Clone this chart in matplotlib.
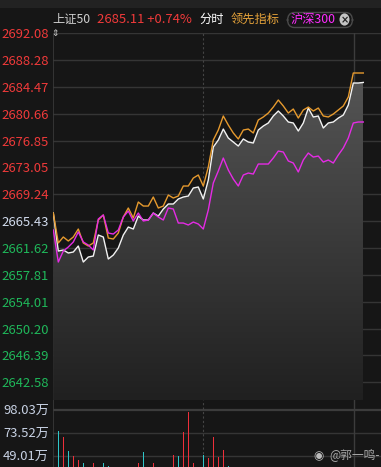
import numpy as np
import matplotlib
matplotlib.use('Agg')
import matplotlib.pyplot as plt
from matplotlib.patches import Polygon, FancyBboxPatch, Rectangle, Circle
from matplotlib.colors import LinearSegmentedColormap

plt.rcParams['font.family'] = ['Noto Sans CJK SC', 'DejaVu Sans']

# 上证50 分时
sz50 = [2666.59, 2661.20, 2661.34, 2660.92, 2661.06, 2661.91, 2659.64, 2660.35, 2660.49, 2663.47,
        2663.19, 2660.07, 2660.63, 2661.63, 2663.47, 2664.60, 2664.32, 2666.16, 2665.60, 2665.60,
        2666.59, 2666.16, 2667.16, 2667.87, 2667.87, 2668.58, 2668.86, 2669.00, 2670.14, 2670.28,
        2668.58, 2671.27, 2675.95, 2676.94, 2678.50, 2677.23, 2676.66, 2676.09, 2677.09, 2676.66,
        2676.52, 2678.36, 2678.93, 2679.36, 2680.35, 2681.06, 2680.35, 2679.50, 2679.36, 2678.22,
        2679.36, 2681.48, 2680.21, 2680.35, 2678.65, 2679.36, 2679.50, 2680.06, 2680.49, 2681.91,
        2685.03, 2685.03, 2685.11]
# 领先指标
lead = [2666.59, 2662.34, 2663.19, 2662.62, 2663.19, 2664.32, 2662.34, 2661.91, 2662.34, 2665.60,
        2666.31, 2663.04, 2662.90, 2663.75, 2666.02, 2667.30, 2665.88, 2668.15, 2667.58, 2667.58,
        2668.86, 2667.30, 2667.58, 2669.14, 2668.72, 2669.00, 2670.42, 2670.42, 2671.55, 2671.98,
        2670.42, 2673.11, 2676.94, 2678.36, 2680.35, 2679.07, 2677.94, 2677.09, 2678.36, 2678.50,
        2677.94, 2679.78, 2680.21, 2680.77, 2681.62, 2682.62, 2681.77, 2680.77, 2681.34, 2680.06,
        2681.20, 2681.62, 2681.06, 2681.48, 2680.35, 2680.21, 2680.63, 2681.20, 2681.77, 2683.04,
        2686.45, 2686.45, 2686.45]
# 沪深300 (scaled onto the same axis)
hs300 = [2664.18, 2659.64, 2661.20, 2661.77, 2662.48, 2663.90, 2662.48, 2662.05, 2661.34, 2665.74,
         2666.31, 2663.75, 2663.61, 2664.18, 2666.02, 2666.87, 2665.46, 2666.59, 2665.46, 2665.60,
         2666.59, 2666.02, 2665.60, 2667.30, 2667.16, 2665.17, 2665.17, 2664.89, 2665.31, 2665.03,
         2664.32, 2667.02, 2670.85, 2672.55, 2674.39, 2672.69, 2671.41, 2670.42, 2671.98, 2672.26,
         2672.12, 2673.54, 2673.54, 2673.54, 2674.39, 2675.38, 2675.24, 2673.97, 2673.68, 2672.41,
         2674.11, 2675.10, 2674.53, 2674.67, 2673.82, 2674.11, 2673.68, 2674.82, 2675.81, 2677.23,
         2679.36, 2679.50, 2679.50]
# volume (万)
vol = [30, 75.1, 68.8, 54.0, 48.7, 44.5, 41.3, 33, 41.6, 35,
       41.6, 38.5, 32, 30, 34, 31, 33, 41.3, 52.9, 34,
       41.3, 30, 28, 33, 49.8, 48.7, 74.0, 95.2, 41.6, 35,
       49.8, 46.9, 68.8, 48.0, 55.4, 38.5, 30, 28, 26, 29,
       27, 25, 30, 22, 26, 31, 24, 20, 28, 23,
       25, 29, 21, 26, 24, 30, 22, 27, 25, 33,
       35, 18, 15]
vol_up = [1, 0, 1, 0, 1, 1, 0, 1, 1, 0,
          0, 0, 1, 0, 1, 1, 0, 1, 0, 1,
          1, 0, 1, 1, 1, 0, 1, 1, 1, 0,
          0, 1, 1, 1, 1, 0, 0, 0, 1, 0,
          0, 1, 1, 1, 1, 1, 0, 0, 0, 0,
          1, 1, 0, 0, 0, 1, 0, 1, 1, 1,
          1, 1, 1]

price_ticks = [2692.08, 2688.28, 2684.47, 2680.66, 2676.85, 2673.05, 2669.24,
               2665.43, 2661.62, 2657.81, 2654.01, 2650.20, 2646.39, 2642.58]
prev_close = 2665.43
vol_ticks = [98.03, 73.52, 49.01]

BG = '#161616'
GRID = '#353535'
W, H = 381, 467
fig = plt.figure(figsize=(W / 100, H / 100), dpi=100, facecolor=BG)


def box(l, t, r, b):
    return [l / W, 1 - b / H, (r - l) / W, (b - t) / H]


fig.patches.append(Rectangle((0, 1 - 8 / H), 1, 8 / H, transform=fig.transFigure,
                             facecolor='#222222', edgecolor='none'))

ax = fig.add_axes(box(53, 33.3, 381, 400))
axv = fig.add_axes(box(53, 400, 381, 467))
for a in (ax, axv):
    a.set_facecolor(BG)
    for s in a.spines.values():
        s.set_visible(False)
    a.set_xlim(-0.06, 65.54)
    a.set_xticks([])
    a.axvline(-0.06, color='#3a3a3a', lw=1.2)
    a.axvline(30, color='#444444', lw=0.8, ls=(0, (2, 2)))
    a.axvline(60.1, color='#3c3c3c', lw=1.0)

x = np.arange(len(sz50))

# price panel
ylo, yhi = 2640.07, 2692.08
ax.set_ylim(ylo, yhi)
for t in price_ticks:
    ax.axhline(t, color=GRID, lw=1.0, zorder=1)

verts = [(x[0], ylo)] + list(zip(x, sz50)) + [(x[-1], ylo)]
clip = Polygon(verts, closed=True, facecolor='none', edgecolor='none')
ax.add_patch(clip)
cmap = LinearSegmentedColormap.from_list('g', ['#202020', '#3a3a3a', '#545454'])
grad = np.linspace(0, 1, 256).reshape(-1, 1)
im = ax.imshow(grad, cmap=cmap, origin='lower', aspect='auto',
               extent=[x[0], x[-1], ylo, max(sz50)], zorder=2)
im.set_clip_path(clip)

ax.plot(x, sz50, color='#f2f2f2', lw=1.0, zorder=3)
ax.plot(x, lead, color='#e69a2e', lw=1.0, zorder=4)
ax.plot(x, hs300, color='#e52be5', lw=1.0, zorder=5)

fs = 9.4
ax.set_yticks(price_ticks)
ax.set_yticklabels([f'{t:.2f}' for t in price_ticks])
ax.tick_params(axis='y', length=0, pad=3.0, labelsize=fs)
for t, lab in zip(price_ticks, ax.get_yticklabels()):
    if t > prev_close + 0.01:
        lab.set_color('#f03a3a')
    elif t < prev_close - 0.01:
        lab.set_color('#1fb85a')
    else:
        lab.set_color('#d2dcee')

# volume panel
axv.set_ylim(36.96, 108.4)
for i, t in enumerate(vol_ticks):
    axv.axhline(t, color='#3c3c3c' if i == 0 else GRID, lw=1.6 if i == 0 else 1.0, zorder=1)
colors = ['#ee2f3a' if u else '#2ec6c9' for u in vol_up]
axv.bar(x, vol, width=0.25, color=colors, zorder=3)
axv.set_yticks(vol_ticks)
axv.set_yticklabels([f'{t:.2f}万' for t in vol_ticks])
axv.tick_params(axis='y', length=0, pad=3.0, labelsize=fs, labelcolor='#c8d2e4')

# header
ty = 1 - 19.5 / H
cfs = 8.8
fig.text(52 / W, ty, '上证50', color='#cfcfcf', fontsize=cfs, va='center')
fig.text(97 / W, ty, '2685.11 +0.74%', color='#f03a3a', fontsize=fs, va='center')
fig.text(199 / W, ty, '分时', color='#ffffff', fontsize=cfs, va='center')
fig.text(231 / W, ty, '领先指标', color='#e6a33a', fontsize=cfs, va='center')
fig.patches.append(FancyBboxPatch((287.5 / W, 1 - 27.5 / H), 65 / W, 15 / H,
                                  boxstyle='round,pad=0,rounding_size=0.018',
                                  transform=fig.transFigure, facecolor='none',
                                  edgecolor='#4a4a4a', lw=1.0))
fig.text(290.5 / W, ty, '沪深300', color='#ff2cff', fontsize=cfs, va='center')
fig.patches.append(Circle((344.5 / W, 1 - 19.5 / H), 5.0 / W, transform=fig.transFigure,
                          facecolor='#c4c4c4', edgecolor='none'))
fig.text(344.5 / W, 1 - 19.8 / H, '×', color='#222222', fontsize=7, fontweight='bold',
         ha='center', va='center', family='DejaVu Sans')
fig.text(54.5 / W, 1 - 33.5 / H, '⇕', color='#cccccc', fontsize=6.5,
         ha='center', va='center', family='DejaVu Sans')

# watermark
fig.text(319 / W, 1 - 456 / H, '◉', color='#bbbbbb', fontsize=8.5, ha='center', va='center',
         family='DejaVu Sans')
fig.text(329 / W, 1 - 456 / H, '@郭一鸣-', color='#a8a8a8', fontsize=8.5, va='center')

fig.savefig('out.png', dpi=100, facecolor=BG)
